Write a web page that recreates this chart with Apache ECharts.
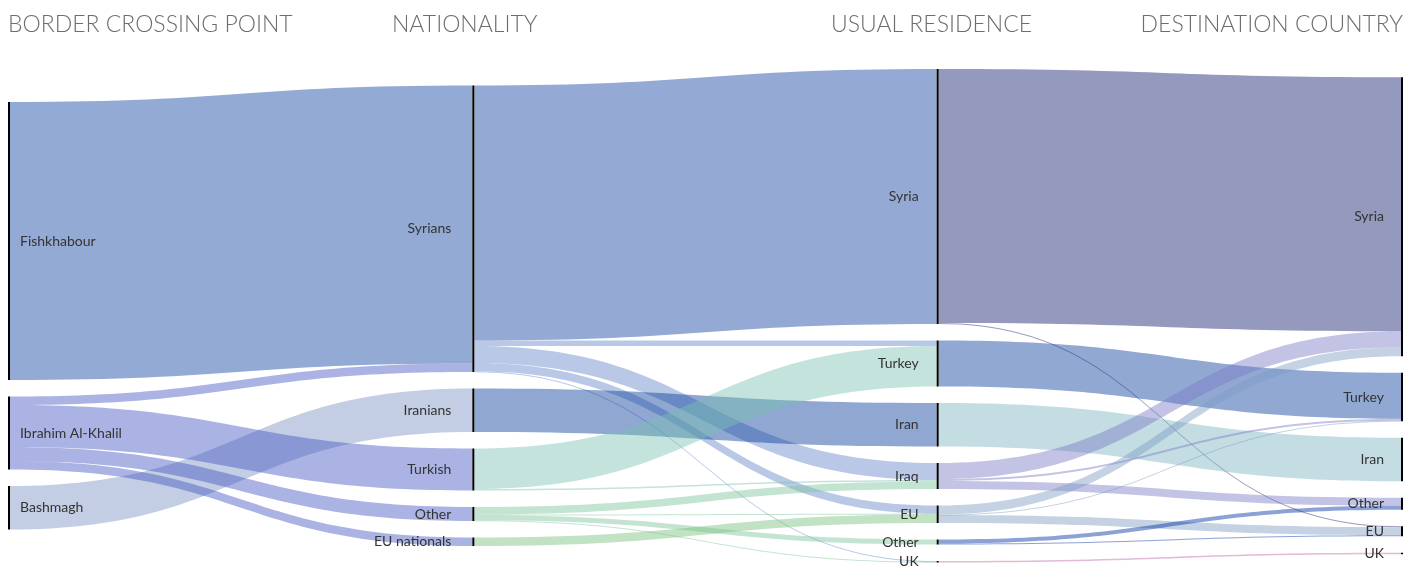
<!DOCTYPE html>
<html>
<head>
<meta charset="utf-8">
<title>Border crossings – nationality, residence and destination</title>
<script src="https://cdn.jsdelivr.net/npm/echarts@6/dist/echarts.min.js"></script>
<style>
  html, body { margin: 0; padding: 0; background: #ffffff; }
  #chart { width: 1405px; height: 567px; }
</style>
</head>
<body>
<div id="chart"></div>
<script>
// ---- data -------------------------------------------------------------
const columnTitles = ['BORDER CROSSING POINT', 'NATIONALITY', 'USUAL RESIDENCE', 'DESTINATION COUNTRY'];

const crossingPoints = ['Fishkhabour', 'Ibrahim Al-Khalil', 'Bashmagh'];
const nationalities  = ['Syrians', 'Iranians', 'Turkish', 'Other', 'EU nationals'];
const residences     = ['Syria', 'Turkey', 'Iran', 'Iraq', 'EU', 'Other', 'UK'];
const destinations   = ['Syria', 'Turkey', 'Iran', 'Other', 'EU', 'UK'];

// [from, to, travellers] — rows are listed in drawing order (later rows paint on top)
const crossingToNationality = [
  ['Bashmagh', 'Iranians', 43.5],
  ['Fishkhabour', 'Syrians', 278],
  ['Ibrahim Al-Khalil', 'Syrians', 8.5],
  ['Ibrahim Al-Khalil', 'Turkish', 42],
  ['Ibrahim Al-Khalil', 'Other', 14],
  ['Ibrahim Al-Khalil', 'EU nationals', 8.5]
];

const nationalityToResidence = [
  ['Syrians', 'Syria', 255],
  ['Syrians', 'Turkey', 5.5],
  ['Syrians', 'Iraq', 17],
  ['Syrians', 'EU', 8.2],
  ['Syrians', 'UK', 0.8],
  ['Iranians', 'Iran', 43.5],
  ['Turkish', 'Turkey', 40.5],
  ['Turkish', 'Iraq', 1.5],
  ['Other', 'Iraq', 7.5],
  ['Other', 'EU', 0.8],
  ['Other', 'Other', 5],
  ['Other', 'UK', 0.7],
  ['EU nationals', 'EU', 8.5]
];

const residenceToDestination = [
  ['Syria', 'Syria', 254],
  ['Syria', 'EU', 1],
  ['Turkey', 'Turkey', 46],
  ['Iran', 'Iran', 43.5],
  ['Iraq', 'Syria', 16],
  ['Iraq', 'Turkey', 2],
  ['Iraq', 'Other', 8],
  ['EU', 'Syria', 9],
  ['EU', 'Turkey', 0.5],
  ['EU', 'EU', 8],
  ['Other', 'Other', 4],
  ['Other', 'EU', 1],
  ['UK', 'UK', 1.5]
];

// ---- styling ----------------------------------------------------------
const LINK_OPACITY = 0.45;
// flow colours, keyed "column|source" with optional per-target overrides
const flowColours = {
  '0|Fishkhabour': '#0f429f',
  '0|Ibrahim Al-Khalil': '#4256c1',
  '0|Bashmagh': '#7a90c1',
  '1|Syrians': '#6185c7',
  '1|Syrians>Syria': '#11409d',
  '1|Iranians': '#063b99',
  '1|Turkish': '#7ac1b1',
  '1|Other': '#7cc39b',
  '1|EU nationals': '#77c17a',
  '2|Syria': '#111c6c',
  '2|Turkey': '#0b3e9d',
  '2|Iran': '#7ab3c1',
  '2|Iraq': '#7a7ac5',
  '2|EU': '#7c9bc3',
  '2|Other': '#0030a4',
  '2|UK': '#c161a8'
};
const labelDistance = [10, 21, 18, 17];

const columns = [crossingPoints, nationalities, residences, destinations];
const flows = [crossingToNationality, nationalityToResidence, residenceToDestination];

// node names repeat across columns, so each gets a column-qualified key
const key = (col, name) => col + '|' + name;
const display = (k) => k.slice(k.indexOf('|') + 1);

function buildOption(localY) {
  const nodes = [];
  columns.forEach((list, col) => {
    list.forEach((name) => {
      const node = {
        name: key(col, name),
        depth: col,
        label: {
          position: col === 0 ? 'right' : 'left',
          distance: labelDistance[col]
        }
      };
      if (localY && localY[node.name] != null) node.localY = localY[node.name];
      nodes.push(node);
    });
  });

  const links = [];
  flows.forEach((list, col) => {
    list.forEach(([from, to, value]) => {
      const colour = flowColours[key(col, from) + '>' + to] || flowColours[key(col, from)];
      links.push({
        source: key(col, from),
        target: key(col + 1, to),
        value: value,
        lineStyle: { color: colour, opacity: LINK_OPACITY }
      });
    });
  });

  const titleStyle = {
    fontFamily: 'Lato, "Open Sans", sans-serif',
    fontWeight: 300,
    fontSize: 23,
    color: '#6d6d6d'
  };

  return {
    animation: false,
    backgroundColor: '#ffffff',
    title: [
      { text: columnTitles[0], left: 3, top: 8, textStyle: titleStyle },
      { text: columnTitles[1], left: 387, top: 8, textStyle: titleStyle },
      { text: columnTitles[2], left: 826, top: 8, textStyle: titleStyle },
      { text: columnTitles[3], right: -3, top: 8, textStyle: titleStyle }
    ],
    series: [{
      type: 'sankey',
      left: 8,
      right: 2,
      top: 69,
      bottom: 4.5,
      nodeWidth: 2,
      nodeGap: 16.5,
      nodeAlign: 'justify',
      layoutIterations: 0,
      draggable: false,
      emphasis: { disabled: true },
      itemStyle: { color: '#000000', borderWidth: 0 },
      lineStyle: { curveness: 0.5 },
      label: {
        color: '#333333',
        fontFamily: 'Lato, "Open Sans", sans-serif',
        fontSize: 14,
        formatter: (p) => display(p.name)
      },
      data: nodes,
      links: links
    }]
  };
}

const chart = echarts.init(document.getElementById('chart'), null, { renderer: 'canvas' });
chart.setOption(buildOption(null));

// centre each column of stacked nodes vertically in the layout box
try {
  const series = chart.getModel().getSeriesByIndex(0);
  const graph = series.getGraph();
  const boxHeight = series.layoutInfo.height;
  const byColumn = {};
  graph.eachNode((node) => {
    const l = node.getLayout();
    const c = Math.round(l.x);
    (byColumn[c] = byColumn[c] || []).push({ name: node.id, l: l });
  });
  const localY = {};
  Object.keys(byColumn).forEach((c) => {
    const list = byColumn[c];
    const top = Math.min(...list.map((d) => d.l.y));
    const bottom = Math.max(...list.map((d) => d.l.y + d.l.dy));
    const shift = (boxHeight - (bottom - top)) / 2 - top;
    list.forEach((d) => { localY[d.name] = (d.l.y + shift) / boxHeight; });
  });
  chart.setOption(buildOption(localY), true);
} catch (e) {
  console.error(e);
}
</script>
</body>
</html>
